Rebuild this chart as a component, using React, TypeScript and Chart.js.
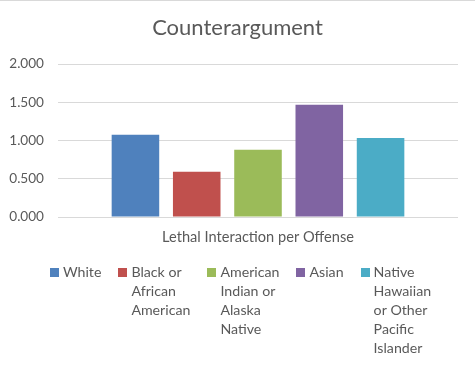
import React, { useEffect, useRef } from "react";
import { Chart, registerables } from "chart.js";

Chart.register(...registerables);

const title = "Counterargument";
const categories = ["Lethal Interaction per Offense"];
const seriesNames = [
  "White",
  "Black or African American",
  "American Indian or Alaska Native",
  "Asian",
  "Native Hawaiian or Other Pacific Islander",
];
const legendLines = [
  ["White"],
  ["Black or", "African", "American"],
  ["American", "Indian or", "Alaska", "Native"],
  ["Asian"],
  ["Native", "Hawaiian", "or Other", "Pacific", "Islander"],
];
const whiteValues = [1.076];
const blackValues = [0.592];
const amIndianValues = [0.88];
const asianValues = [1.467];
const hawaiianValues = [1.033];
const seriesValues = [whiteValues, blackValues, amIndianValues, asianValues, hawaiianValues];
const colors = ["#4f81bd", "#c0504d", "#9bbb59", "#8064a2", "#4bacc6"];

const FONT = "Lato";
const TEXT = "#595959";

const decorPlugin = {
  id: "decor",
  beforeDraw(chart: any) {
    const ctx = chart.ctx;
    ctx.save();
    ctx.strokeStyle = "#d9d9d9";
    ctx.lineWidth = 1;
    ctx.beginPath();
    ctx.moveTo(0, 0.5);
    ctx.lineTo(chart.width, 0.5);
    ctx.stroke();
    ctx.restore();
  },
  afterDraw(chart: any) {
    const ctx = chart.ctx;
    ctx.save();
    // title
    ctx.font = `22px ${FONT}`;
    ctx.fillStyle = TEXT;
    ctx.textAlign = "center";
    ctx.textBaseline = "middle";
    ctx.fillText(title, chart.width / 2, 28);
    // legend
    ctx.font = `14.2px ${FONT}`;
    const box = 9;
    const boxGap = 4;
    const itemGap = 17;
    const lineH = 19;
    const firstY = 272;
    const widths = legendLines.map((lines) =>
      Math.max(...lines.map((l) => ctx.measureText(l).width))
    );
    const total =
      widths.reduce((a, w) => a + box + boxGap + w, 0) + itemGap * (widths.length - 1);
    let x = chart.width / 2 - total / 2 + 3;
    ctx.textAlign = "left";
    chart.data.datasets.forEach((ds: any, i: number) => {
      ctx.fillStyle = ds.backgroundColor;
      ctx.fillRect(Math.round(x), firstY - 4, box, box);
      ctx.fillStyle = TEXT;
      legendLines[i].forEach((line, j) => {
        ctx.fillText(line, x + box + boxGap, firstY + j * lineH);
      });
      x += box + boxGap + widths[i] + itemGap;
    });
    ctx.restore();
  },
};

export default function App() {
  const ref = useRef<HTMLCanvasElement>(null);
  useEffect(() => {
    document.body.style.margin = "0";
    const chart = new Chart(ref.current!, {
      type: "bar",
      data: {
        labels: categories,
        datasets: seriesNames.map((name, i) => ({
          label: name,
          data: seriesValues[i],
          backgroundColor: colors[i],
          borderWidth: 0,
          categoryPercentage: 0.766,
          barPercentage: 0.776,
        })),
      },
      options: {
        animation: false,
        responsive: false,
        layout: { padding: { left: 0, right: 17, top: 64, bottom: 127 } },
        plugins: {
          legend: { display: false },
          tooltip: { enabled: false },
          title: { display: false },
        },
        scales: {
          x: {
            grid: { display: false, drawTicks: false },
            border: { display: false },
            ticks: {
              color: TEXT,
              font: { family: FONT, size: 14.6 },
              padding: 12,
            },
            afterFit: (s: any) => {
              s.height = 28;
            },
          },
          y: {
            min: 0,
            max: 2,
            ticks: {
              stepSize: 0.5,
              color: TEXT,
              font: { family: FONT, size: 13.6 },
              padding: 14,
              callback: (v: any) => Number(v).toFixed(3),
            },
            grid: { color: "#d9d9d9", drawTicks: false },
            border: { display: false },
            afterFit: (s: any) => {
              s.width = 58;
            },
          },
        },
      },
      plugins: [decorPlugin],
    });
    return () => chart.destroy();
  }, []);
  return (
    <div style={{ width: 475, height: 372 }}>
      <canvas ref={ref} width={475} height={372} />
    </div>
  );
}
